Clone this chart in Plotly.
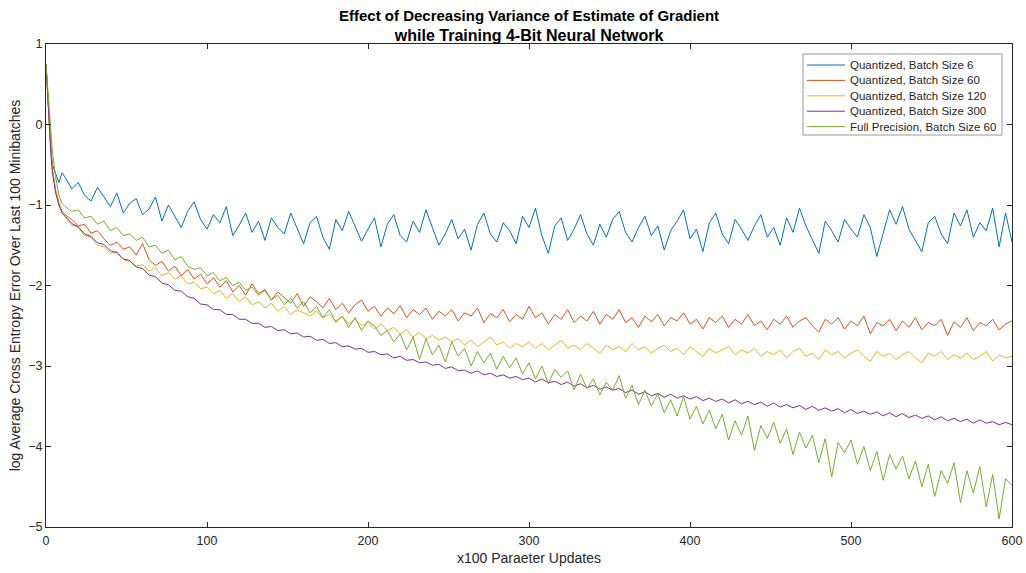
import plotly.graph_objects as go

# x positions (x100 parameter updates)
X = [0, 1, 2, 3, 4, 6, 8, 10] + list(range(12, 601, 4))

q6 = [0.75, 0.40, 0.00, -0.30, -0.50, -0.62, -0.72, -0.60,
      -0.66, -0.80, -0.72, -0.88, -0.95, -0.78, -0.90, -1.02, -0.85, -1.10,
      -0.98, -0.92, -1.12, -1.05, -0.90, -1.20, -1.00, -1.14, -1.28, -1.08,
      -0.96, -1.18, -1.30, -1.12, -1.22, -1.02, -1.38, -1.25, -1.10, -1.34,
      -1.20, -1.44, -1.16, -1.28, -1.36, -1.10, -1.30, -1.48, -1.22, -1.14,
      -1.40, -1.55, -1.18, -1.32, -1.08, -1.26, -1.45, -1.30, -1.16, -1.52,
      -1.24, -1.12, -1.38, -1.46, -1.20, -1.34, -1.06, -1.28, -1.50, -1.36,
      -1.18, -1.42, -1.30, -1.56, -1.24, -1.10, -1.36, -1.46, -1.22, -1.32,
      -1.48, -1.14, -1.28, -1.04, -1.38, -1.60, -1.26, -1.16, -1.44, -1.30,
      -1.12, -1.36, -1.50, -1.24, -1.40, -1.18, -1.08, -1.34, -1.46, -1.28,
      -1.14, -1.38, -1.26, -1.56, -1.32, -1.20, -1.06, -1.42, -1.30, -1.58,
      -1.22, -1.10, -1.36, -1.48, -1.18, -1.30, -1.44, -1.26, -1.12, -1.40,
      -1.28, -1.50, -1.16, -1.34, -1.04, -1.26, -1.44, -1.60, -1.20, -1.32,
      -1.46, -1.18, -1.30, -1.40, -1.12, -1.28, -1.64, -1.36, -1.06, -1.24,
      -1.02, -1.30, -1.44, -1.58, -1.22, -1.14, -1.36, -1.48, -1.10, -1.26,
      -1.06, -1.40, -1.22, -1.32, -1.04, -1.52, -1.10, -1.46]

q60 = [0.75, 0.38, 0.00, -0.30, -0.55, -0.82, -0.97, -1.08,
       -1.12, -1.18, -1.26, -1.24, -1.35, -1.32, -1.42, -1.50, -1.46, -1.55,
       -1.52, -1.62, -1.48, -1.68, -1.75, -1.70, -1.82, -1.76, -1.88, -1.80,
       -1.92, -1.86, -1.98, -1.90, -2.02, -1.94, -2.08, -2.00, -2.12, -1.98,
       -2.10, -2.05, -2.18, -2.08, -2.15, -2.22, -2.10, -2.26, -2.14, -2.20,
       -2.28, -2.16, -2.30, -2.22, -2.34, -2.24, -2.18, -2.32, -2.26, -2.38,
       -2.28, -2.35, -2.25, -2.40, -2.30, -2.36, -2.28, -2.42, -2.32, -2.38,
       -2.30, -2.44, -2.34, -2.38, -2.28, -2.46, -2.35, -2.40, -2.30, -2.45,
       -2.36, -2.42, -2.26, -2.40, -2.34, -2.48, -2.36, -2.42, -2.30, -2.46,
       -2.38, -2.44, -2.32, -2.48, -2.36, -2.42, -2.30, -2.46, -2.40, -2.52,
       -2.38, -2.45, -2.36, -2.50, -2.40, -2.44, -2.34, -2.48, -2.42, -2.54,
       -2.40, -2.46, -2.38, -2.52, -2.42, -2.48, -2.36, -2.50, -2.44, -2.55,
       -2.42, -2.48, -2.38, -2.52, -2.44, -2.40, -2.50, -2.58, -2.42, -2.48,
       -2.40, -2.54, -2.44, -2.50, -2.38, -2.60, -2.46, -2.50, -2.42, -2.56,
       -2.44, -2.52, -2.40, -2.55, -2.46, -2.50, -2.42, -2.62, -2.45, -2.52,
       -2.40, -2.56, -2.46, -2.50, -2.42, -2.55, -2.48, -2.44]

q120 = [0.75, 0.37, -0.02, -0.32, -0.57, -0.83, -0.98, -1.10,
        -1.15, -1.25, -1.28, -1.38, -1.40, -1.50, -1.52, -1.60, -1.58, -1.68,
        -1.70, -1.76, -1.74, -1.82, -1.78, -1.88, -1.84, -1.92, -1.88, -1.98,
        -1.96, -2.04, -2.02, -2.10, -2.06, -2.16, -2.10, -2.20, -2.14, -2.24,
        -2.20, -2.28, -2.22, -2.32, -2.26, -2.36, -2.30, -2.34, -2.38, -2.32,
        -2.40, -2.36, -2.44, -2.38, -2.48, -2.42, -2.50, -2.46, -2.54, -2.48,
        -2.56, -2.52, -2.60, -2.55, -2.64, -2.58, -2.66, -2.62, -2.68, -2.64,
        -2.70, -2.66, -2.74, -2.68, -2.76, -2.70, -2.64, -2.74, -2.70, -2.78,
        -2.72, -2.76, -2.70, -2.78, -2.72, -2.80, -2.74, -2.68, -2.78, -2.74,
        -2.80, -2.72, -2.78, -2.84, -2.74, -2.80, -2.76, -2.82, -2.72, -2.80,
        -2.76, -2.84, -2.78, -2.74, -2.82, -2.78, -2.86, -2.76, -2.82, -2.88,
        -2.78, -2.84, -2.80, -2.76, -2.86, -2.80, -2.84, -2.78, -2.88, -2.82,
        -2.86, -2.80, -2.90, -2.82, -2.78, -2.88, -2.84, -2.92, -2.80, -2.86,
        -2.82, -2.90, -2.84, -2.80, -2.88, -2.94, -2.82, -2.88, -2.84, -2.92,
        -2.86, -2.82, -2.90, -2.96, -2.84, -2.88, -2.82, -2.92, -2.86, -2.90,
        -2.84, -2.92, -2.88, -2.82, -2.94, -2.86, -2.90, -2.88]

q300 = [0.75, 0.35, -0.05, -0.35, -0.60, -0.85, -1.00, -1.10,
        -1.14, -1.23, -1.27, -1.36, -1.39, -1.47, -1.49, -1.57, -1.59, -1.67,
        -1.69, -1.77, -1.79, -1.87, -1.89, -1.97, -1.99, -2.06, -2.07, -2.14,
        -2.16, -2.23, -2.24, -2.30, -2.30, -2.36, -2.36, -2.42, -2.42, -2.47,
        -2.47, -2.52, -2.51, -2.56, -2.55, -2.60, -2.59, -2.64, -2.63, -2.68,
        -2.67, -2.72, -2.71, -2.76, -2.75, -2.79, -2.78, -2.83, -2.82, -2.86,
        -2.85, -2.90, -2.88, -2.93, -2.92, -2.96, -2.95, -2.99, -2.98, -3.03,
        -3.01, -3.06, -3.05, -3.09, -3.06, -3.11, -3.09, -3.13, -3.11, -3.15,
        -3.13, -3.17, -3.15, -3.20, -3.16, -3.21, -3.19, -3.23, -3.20, -3.25,
        -3.22, -3.27, -3.24, -3.29, -3.26, -3.30, -3.28, -3.33, -3.30, -3.35,
        -3.32, -3.37, -3.34, -3.39, -3.35, -3.40, -3.37, -3.41, -3.38, -3.43,
        -3.40, -3.44, -3.41, -3.46, -3.42, -3.47, -3.44, -3.48, -3.45, -3.50,
        -3.46, -3.51, -3.48, -3.52, -3.49, -3.54, -3.50, -3.55, -3.52, -3.56,
        -3.53, -3.58, -3.54, -3.59, -3.56, -3.60, -3.57, -3.62, -3.58, -3.63,
        -3.59, -3.64, -3.61, -3.65, -3.62, -3.67, -3.63, -3.68, -3.65, -3.69,
        -3.66, -3.71, -3.67, -3.71, -3.69, -3.73, -3.70, -3.73]

fp60 = [0.75, 0.50, 0.20, -0.10, -0.35, -0.65, -0.88, -0.98,
        -1.02, -1.08, -1.06, -1.16, -1.14, -1.24, -1.20, -1.32, -1.28, -1.38,
        -1.36, -1.44, -1.40, -1.52, -1.50, -1.60, -1.56, -1.68, -1.64, -1.76,
        -1.80, -1.78, -1.88, -1.84, -1.94, -1.90, -2.00, -1.96, -2.06, -2.02,
        -2.12, -2.06, -2.18, -2.12, -2.24, -2.16, -2.28, -2.20, -2.34, -2.26,
        -2.40, -2.30, -2.46, -2.38, -2.52, -2.40, -2.56, -2.44, -2.50, -2.62,
        -2.56, -2.70, -2.60, -2.80, -2.64, -2.92, -2.66, -2.86, -2.74, -2.95,
        -2.70, -2.88, -2.78, -3.00, -2.82, -2.96, -2.84, -3.04, -2.88, -3.02,
        -2.90, -3.10, -2.96, -3.16, -3.00, -3.22, -3.04, -3.14, -3.06, -3.30,
        -3.10, -3.28, -3.16, -3.36, -3.20, -3.30, -3.12, -3.40, -3.24, -3.48,
        -3.30, -3.50, -3.34, -3.58, -3.42, -3.62, -3.38, -3.66, -3.50, -3.72,
        -3.55, -3.78, -3.60, -3.92, -3.68, -3.86, -3.62, -4.05, -3.74, -3.90,
        -3.70, -3.96, -3.78, -4.10, -3.82, -4.02, -3.86, -4.20, -3.90, -4.38,
        -3.95, -4.08, -3.92, -4.22, -4.00, -4.30, -4.06, -4.42, -4.10, -4.28,
        -4.12, -4.40, -4.18, -4.50, -4.22, -4.62, -4.30, -4.46, -4.20, -4.70,
        -4.30, -4.58, -4.25, -4.75, -4.35, -4.90, -4.40, -4.48]

names = ["Quantized, Batch Size 6", "Quantized, Batch Size 60",
         "Quantized, Batch Size 120", "Quantized, Batch Size 300",
         "Full Precision, Batch Size 60"]
colors = ["#0072BD", "#D95319", "#EDB120", "#7E2F8E", "#77AC30"]
series = [q6, q60, q120, q300, fp60]
title_lines = ["Effect of Decreasing Variance of Estimate of Gradient",
               "while Training 4-Bit Neural Network"]

for s in series:
    assert len(s) == len(X), (len(s), len(X))

FONT = "Liberation Sans, Arial, Helvetica, sans-serif"
AX = "#262626"

# layout geometry (pixels)
W, H = 1026, 573
ML, MR, MT, MB = 46, 14, 44, 46
PW, PH = W - ML - MR, H - MT - MB


def px(x):
    return (x - ML) / PW


def py(y):
    return (H - MB - y) / PH


fig = go.Figure()
for name, col, ys in zip(names, colors, series):
    fig.add_trace(go.Scatter(x=X, y=ys, mode="lines", name=name, showlegend=False,
                             line=dict(color=col, width=1)))

axis_common = dict(showline=True, linecolor=AX, linewidth=1, mirror="allticks",
                   ticks="inside", ticklen=5, tickcolor=AX, tickwidth=1,
                   showgrid=False, zeroline=False, automargin=False,
                   tickfont=dict(family=FONT, size=12.5, color=AX))

# two-line bold title
title_text = ("<b>" + title_lines[0] + "</b><br>"
              "<span style='font-size:16px'><b>" + title_lines[1] + "</b></span>")
annotations = [dict(text=title_text, xref="paper", yref="paper",
                    x=0.5, y=py(25.5), xanchor="center", yanchor="middle", align="center",
                    showarrow=False, font=dict(family=FONT, size=15, color="black"))]

# legend drawn as a box
LX0, LX1, LY0, LY1 = 803, 1002, 54, 135
shapes = [dict(type="rect", xref="paper", yref="paper", x0=px(LX0), x1=px(LX1),
               y0=py(LY1), y1=py(LY0), fillcolor="white",
               line=dict(color="#9a9a9a", width=1), layer="above")]
for i, (name, col) in enumerate(zip(names, colors)):
    yy = py(65 + 15.4 * i)
    shapes.append(dict(type="line", xref="paper", yref="paper", x0=px(807), x1=px(845),
                       y0=yy, y1=yy, line=dict(color=col, width=1), layer="above"))
    annotations.append(dict(text=name, xref="paper", yref="paper", x=px(848), y=yy,
                            xanchor="left", yanchor="middle", showarrow=False,
                            font=dict(family=FONT, size=11.5, color=AX)))

fig.update_layout(
    width=W, height=H,
    margin=dict(l=ML, r=MR, t=MT, b=MB),
    paper_bgcolor="white", plot_bgcolor="white",
    xaxis=dict(range=[0, 600], dtick=100, tick0=0, ticklabelstandoff=2,
               title=dict(text="x100 Paraeter Updates", standoff=6,
                          font=dict(family=FONT, size=14, color=AX)),
               **axis_common),
    yaxis=dict(range=[-5, 1], dtick=1, tick0=0,
               title=dict(text="log Average Cross Entropy Error Over Last 100 Minibatches", standoff=4,
                          font=dict(family=FONT, size=14, color=AX)),
               **axis_common),
    shapes=shapes,
    annotations=annotations,
    showlegend=False,
)

fig.write_html("out.html", config={"displayModeBar": False},
               post_script="document.body.style.margin='0px';")
